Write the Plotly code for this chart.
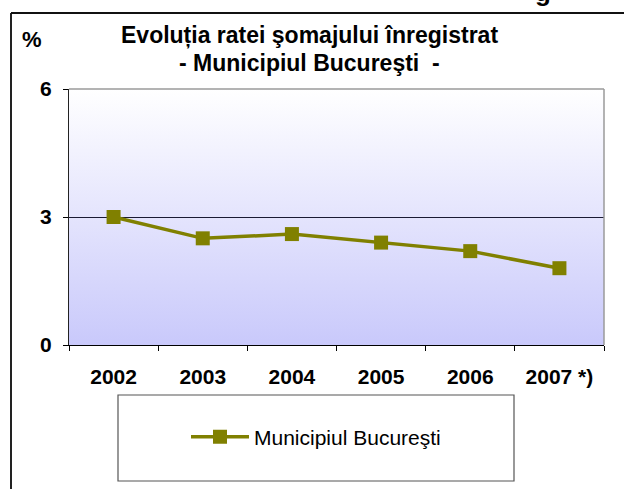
import base64
import plotly.graph_objects as go

# data
years = ["2002", "2003", "2004", "2005", "2006", "2007 *)"]
rate = [3.0, 2.5, 2.6, 2.4, 2.2, 1.8]
y_ticks = [0, 3, 6]
series_name = "Municipiul Bucureşti"
title_lines = ["Evoluția ratei şomajului înregistrat", "- Municipiul Bucureşti  -"]

W, H = 624, 489
L, R, T, B = 69, 20, 89, 144
PW, PH = W - L - R, H - T - B


def px(x):
    return (x - L) / PW


def py(y):
    return (H - B - y) / PH


FONT = "Arial, Liberation Sans, sans-serif"

# vertical gradient background as an svg image
svg = ('<svg xmlns="http://www.w3.org/2000/svg" width="10" height="100" preserveAspectRatio="none">'
       '<defs><linearGradient id="g" x1="0" y1="0" x2="0" y2="1">'
       '<stop offset="0" stop-color="#ffffff"/><stop offset="1" stop-color="#c9c9fb"/>'
       '</linearGradient></defs><rect width="10" height="100" fill="url(#g)"/></svg>')
bg_uri = "data:image/svg+xml;base64," + base64.b64encode(svg.encode()).decode()

fig = go.Figure()
fig.add_trace(go.Scatter(
    x=years, y=rate, name=series_name, mode="lines+markers",
    line=dict(color="#808000", width=3.5),
    marker=dict(symbol="square", size=14, color="#808000"),
))

fig.update_layout(
    width=W, height=H,
    margin=dict(l=L, r=R, t=T, b=B),
    paper_bgcolor="white",
    plot_bgcolor="rgba(0,0,0,0)",
    font=dict(family=FONT, color="black"),
    showlegend=True,
    legend=dict(x=px(186), y=py(437), xanchor="left", yanchor="middle",
                bgcolor="rgba(0,0,0,0)", font=dict(size=21, family=FONT),
                itemwidth=58),
    images=[dict(source=bg_uri, xref="paper", yref="paper", x=0, y=1,
                 sizex=1, sizey=1, sizing="stretch", layer="below",
                 xanchor="left", yanchor="top")],
)

fig.update_xaxes(
    type="category", range=[-0.5, 5.5],
    showline=True, linecolor="black", linewidth=1,
    ticks="outside", tickson="boundaries", ticklen=5, tickcolor="black",
    tickfont=dict(size=21, family=FONT, weight="bold"),
    ticklabelstandoff=13, showgrid=False,
)
fig.update_yaxes(
    range=[0, 6], tickvals=y_ticks,
    showline=True, linecolor="#222222", linewidth=1,
    ticks="outside", ticklen=5, tickcolor="black",
    tickfont=dict(size=21, family=FONT, weight="bold"),
    ticklabelstandoff=7,
    showgrid=True, gridcolor="#1a1a33", gridwidth=1, zeroline=False,
)

# plot frame top/right in gray
fig.add_shape(type="line", xref="paper", yref="paper", x0=0, x1=1, y0=1, y1=1,
              line=dict(color="#9a9a9a", width=1.5), layer="above")
fig.add_shape(type="line", xref="paper", yref="paper", x0=1, x1=1, y0=0, y1=1,
              line=dict(color="#9a9a9a", width=1.5), layer="above")
# outer chart border (left/top visible)
fig.add_shape(type="line", xref="paper", yref="paper", x0=px(11), x1=px(11), y0=py(13), y1=py(H),
              line=dict(color="#222222", width=2))
fig.add_shape(type="line", xref="paper", yref="paper", x0=px(11), x1=px(W), y0=py(13), y1=py(13),
              line=dict(color="#111111", width=2))
# legend box
fig.add_shape(type="rect", xref="paper", yref="paper", x0=px(118), x1=px(514), y0=py(481), y1=py(395),
              line=dict(color="#555555", width=1.2), fillcolor="white")

for text, yy in zip(title_lines, [35, 63]):
    fig.add_annotation(text=text, xref="paper", yref="paper", x=px(309), y=py(yy),
                       xanchor="center", yanchor="middle", showarrow=False,
                       font=dict(size=23, family=FONT, weight="bold", color="black"))
fig.add_annotation(text="%", xref="paper", yref="paper", x=px(32), y=py(39),
                   xanchor="center", yanchor="middle", showarrow=False,
                   font=dict(size=22, family=FONT, weight="bold", color="black"))
# cut-off letter at the top edge
fig.add_annotation(text="g", xref="paper", yref="paper", x=px(543), y=py(9),
                   xanchor="center", yanchor="bottom", showarrow=False,
                   font=dict(size=26, family=FONT, weight="bold", color="black"))

fig.write_html("out.html", config={"displayModeBar": False},
               post_script="document.body.style.margin='0';")
